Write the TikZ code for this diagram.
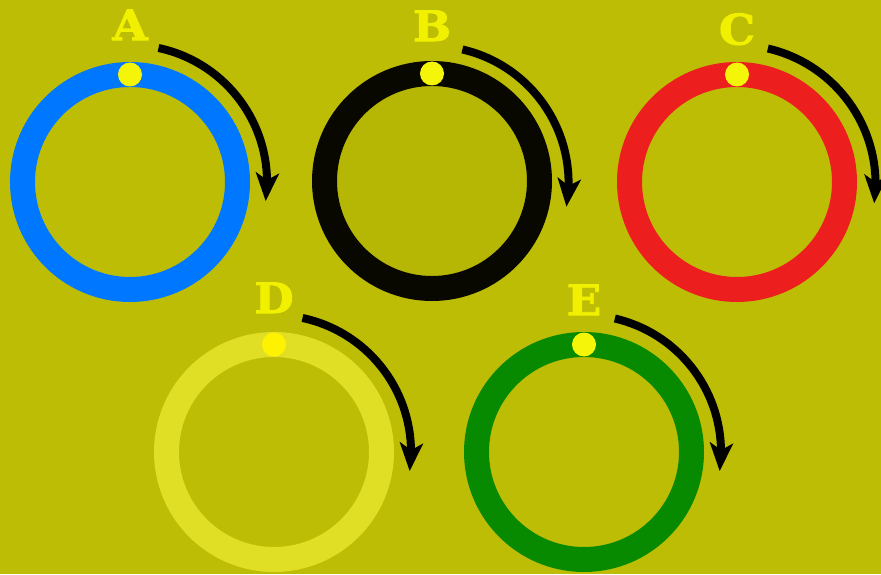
\documentclass[tikz,border=0pt]{standalone}
\usepackage{fontspec}
\newfontfamily\labfont{DejaVu Serif Bold}[FakeBold=2, FakeStretch=1.08]
\usetikzlibrary{arrows.meta, bending, positioning}
\definecolor{bgolive}{RGB}{189,189,6}
\definecolor{ringblue}{RGB}{0,119,255}
\definecolor{ringblack}{RGB}{8,8,0}
\definecolor{ringred}{RGB}{236,30,30}
\definecolor{ringpale}{RGB}{225,222,38}
\definecolor{ringgreen}{RGB}{8,138,0}
\definecolor{innerB}{RGB}{181,183,4}
\definecolor{dotyellow}{RGB}{245,245,10}
\definecolor{labyellow}{RGB}{240,240,0}
\tikzset{
  ring/.style   = {circle, line width=25pt, minimum size=215pt, inner sep=0pt,
                   outer sep=0pt},
  knob/.style   = {circle, fill=dotyellow, minimum size=24pt, inner sep=0pt},
  lab/.style    = {font=\labfont\fontsize{42}{42}\selectfont,
                   text=labyellow, inner sep=0pt},
  spin/.style   = {line width=8pt, draw=black,
                   -{Stealth[length=28pt, width=23pt, inset=7pt, flex]}},
}

\begin{document}
\begin{tikzpicture}[x=1pt, y=1pt]
  \useasboundingbox (0,0) rectangle (881,574);
  \fill[bgolive] (0,0) rectangle (881,574);

  \node[ring, draw=ringblue]               (ringA) at (130,392) {};
  \node[ring, draw=ringblack, fill=innerB] (ringB) at (432,393) {};
  \node[ring, draw=ringred]                (ringC) at (737,392) {};
  \node[ring, draw=ringpale]               (ringD) at (274,122) {};
  \node[ring, draw=ringgreen]              (ringE) at (584,122) {};

  \node[knob] (dotA) at (ringA.north) {};
  \node[knob] (dotB) at (ringB.north) {};
  \node[knob] (dotC) at (ringC.north) {};
  \node[knob, fill=yellow] (dotD) at (ringD.north) {};
  \node[knob] (dotE) at (ringE.north) {};

  \node[lab, above=22pt of dotA] (labA) {A};
  \node[lab, above=20pt of dotB] (labB) {B};
  \node[lab, above=17pt of dotC] (labC) {C};
  \node[lab, above=19pt of dotD] (labD) {D};
  \node[lab, above=17pt of dotE] (labE) {E};

  \draw[spin] ([shift={(78:137)}]ringA.center) arc[start angle=78, end angle=-8, radius=137];
  \draw[spin] ([shift={(77:135)}]ringB.center) arc[start angle=77, end angle=-10, radius=137];
  \draw[spin] ([shift={(77:137)}]ringC.center) arc[start angle=77, end angle=-8, radius=139];
  \draw[spin] ([shift={(78:137)}]ringD.center) arc[start angle=78, end angle=-8, radius=137];
  \draw[spin] ([shift={(77:137)}]ringE.center) arc[start angle=77, end angle=-8, radius=137];
\end{tikzpicture}
\end{document}
